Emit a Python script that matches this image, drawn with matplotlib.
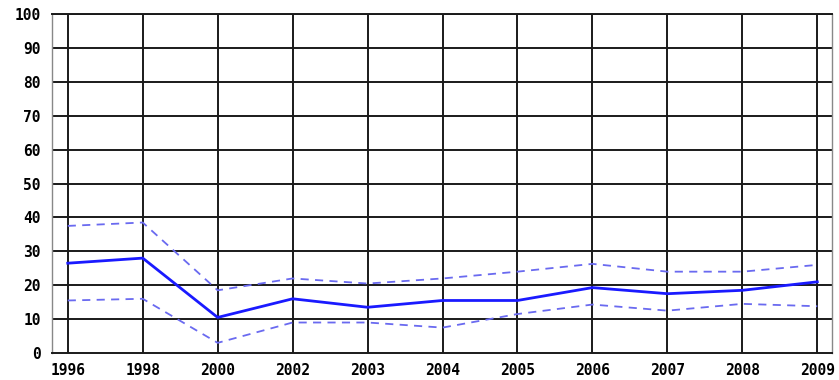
import matplotlib
matplotlib.use("Agg")
import matplotlib.pyplot as plt

years = ["1996", "1998", "2000", "2002", "2003", "2004", "2005", "2006", "2007", "2008", "2009"]
mean_vals = [26.5, 28, 10.5, 16, 13.5, 15.5, 15.5, 19.3, 17.5, 18.5, 21]
upper_vals = [37.5, 38.5, 18.5, 22, 20.5, 22, 24, 26.3, 24, 24, 26]
lower_vals = [15.5, 16, 3, 9, 9, 7.5, 11.5, 14.3, 12.5, 14.5, 13.8]
y_ticks = list(range(0, 101, 10))

fig = plt.figure(figsize=(8.39, 3.8), dpi=100)
ax = fig.add_axes([0.062, 0.071, 0.93, 0.892])

x = list(range(len(years)))

# grid lines
for xi in x:
    ax.axvline(xi, color="#1a1a1a", lw=1.4, zorder=1)
for yt in y_ticks[1:]:
    ax.axhline(yt, color="#1a1a1a", lw=1.4, zorder=1)

ax.plot(x, upper_vals, color="#6a6af0", lw=1.3, ls=(0, (4.5, 3.5)), zorder=3)
ax.plot(x, lower_vals, color="#6a6af0", lw=1.3, ls=(0, (4.5, 3.5)), zorder=3)
ax.plot(x, mean_vals, color="#1a1aff", lw=2.0, zorder=4)

ax.set_xlim(-0.21, 10.2)
ax.set_ylim(0, 100)
ax.set_xticks(x)
ax.set_xticklabels(years)
ax.set_yticks(y_ticks)
ax.tick_params(axis="x", length=0, pad=7)
ax.tick_params(axis="y", length=0, pad=8)
for lab in ax.get_xticklabels() + ax.get_yticklabels():
    lab.set_fontfamily("DejaVu Sans Mono")
    lab.set_fontweight("bold")
    lab.set_fontsize(10.5)

for side in ["right", "left"]:
    ax.spines[side].set_color("#888888")
    ax.spines[side].set_linewidth(1.0)
for side in ["top", "bottom"]:
    ax.spines[side].set_color("#1a1a1a")
    ax.spines[side].set_linewidth(1.4)

fig.savefig("out.png", dpi=100)
